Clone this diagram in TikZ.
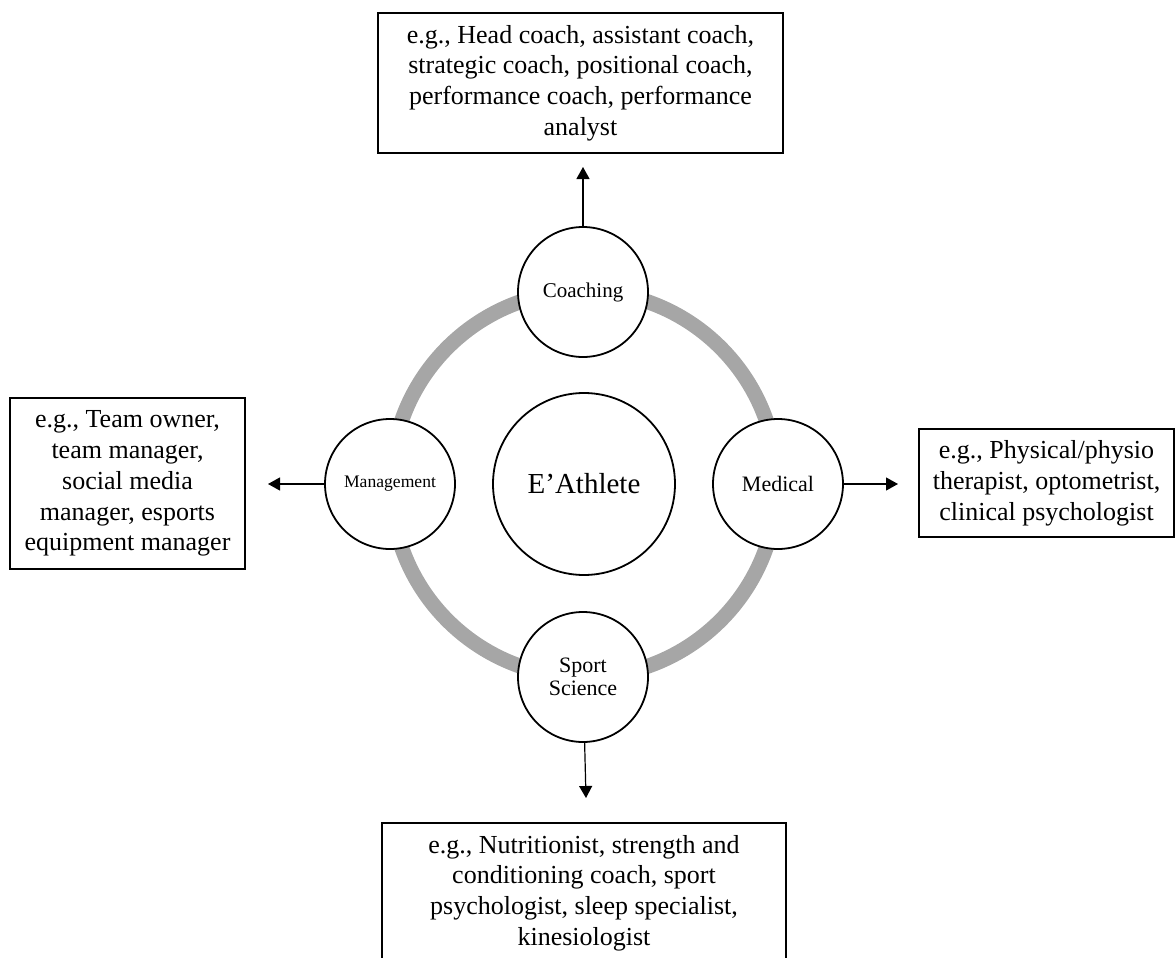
\documentclass[tikz,border=0pt]{standalone}
\usepackage{fontspec}
\setmainfont{Liberation Serif}
\usetikzlibrary{positioning,arrows.meta}
\definecolor{ringgray}{HTML}{A6A6A6}
\tikzset{ring/.style={draw=ringgray, line width=7.5pt}}
\tikzset{dcirc/.style={circle, draw, line width=0.9pt, fill=white, minimum size=#1, inner sep=0pt, align=center}}
\tikzset{dbox/.style args={#1/#2}{draw, line width=0.9pt, minimum width=#1, minimum height=#2, inner sep=0pt, align=center, font=\fontsize{13pt}{15.4pt}\selectfont}}
\tikzset{arr/.style={draw, -{Triangle[length=6pt, width=6.5pt]}, line width=0.6pt}}

\begin{document}
\begin{tikzpicture}[x=0.5pt, y=-0.5pt]
    \useasboundingbox (0,0) rectangle (1175,958);
    % ring behind the staff groups
    \draw[ring] (584,484) circle[radius=96.5pt];
    \node[dcirc=91pt, font=\fontsize{14.5pt}{17pt}\selectfont] (athlete) at (584,484) {E’Athlete};
    \node[dcirc=65pt, font=\fontsize{10.5pt}{12pt}\selectfont] (coaching) at (583,292) {Coaching};
    \node[dcirc=65pt, font=\fontsize{8.8pt}{10pt}\selectfont] (management) at (390,484) {Management};
    \node[dcirc=65pt, font=\fontsize{11pt}{12pt}\selectfont] (medical) at (778,484) {Medical};
    \node[dcirc=65pt, font=\fontsize{11pt}{11.5pt}\selectfont] (sportsci) at (583,677) {Sport\\ Science};

    % example roles
    \node[dbox=202.5pt/70pt] (coachbox) at (580.5,83)
        {e.g., Head coach, assistant coach,\\ strategic coach, positional coach,\\ performance coach, performance\\ analyst};
    \node[dbox=117.5pt/85.5pt] (managebox) at (127.5,483.5)
        {e.g., Team owner,\\ team manager,\\ social media\\ manager, esports\\ equipment manager};
    \node[dbox=127.5pt/54pt] (medbox) at (1046.5,483)
        {e.g., Physical/physio\\ therapist, optometrist,\\ clinical psychologist};
    \node[dbox=202pt/70pt] (scibox) at (584,893)
        {e.g., Nutritionist, strength and\\ conditioning coach, sport\\ psychologist, sleep specialist,\\ kinesiologist};

    \coordinate (coachtip) at (583,167);
    \coordinate (managetip) at (268,484);
    \coordinate (medtip) at (898,484);
    \coordinate (scitip) at (586,798);
    \draw[arr] (coaching) -- (coachtip);
    \draw[arr] (management) -- (managetip);
    \draw[arr] (medical) -- (medtip);
    \draw[arr] (sportsci) -- (scitip);
\end{tikzpicture}
\end{document}
